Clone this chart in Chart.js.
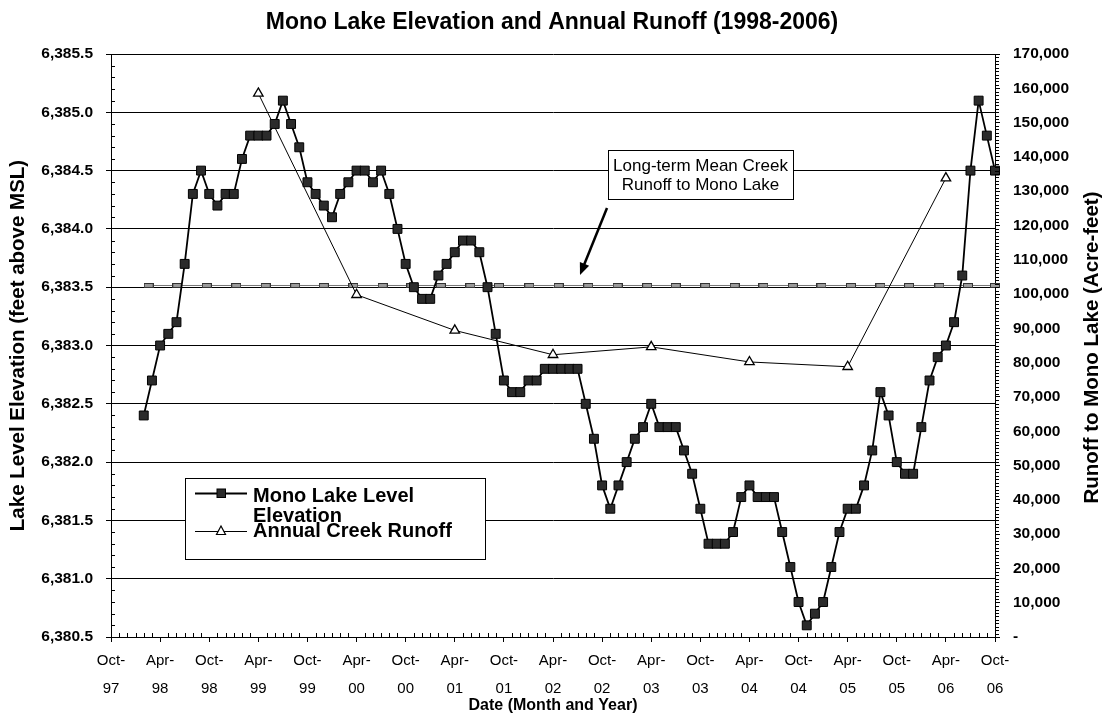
<!DOCTYPE html>
<html><head><meta charset="utf-8">
<script src="https://cdn.jsdelivr.net/npm/chart.js@4.4.0/dist/chart.umd.min.js"></script>
<style>html,body{margin:0;padding:0;background:#fff;} #wrap{width:1104px;height:719px;position:relative;}</style>
</head><body><div id="wrap"><canvas id="c" width="1104" height="719"></canvas></div>
<script>
// ---------- DATA ----------
const chartTitle = 'Mono Lake Elevation and Annual Runoff (1998-2006)';
const xAxisTitle = 'Date (Month and Year)';
const yAxisTitle = 'Lake Level Elevation (feet above MSL)';
const y2AxisTitle = 'Runoff to Mono Lake (Acre-feet)';
const annotationLines = ['Long-term Mean Creek', 'Runoff to Mono Lake'];
// x axis = months after Oct-97
const xTickLabels = ['Oct-97','Apr-98','Oct-98','Apr-99','Oct-99','Apr-00','Oct-00','Apr-01','Oct-01','Apr-02','Oct-02','Apr-03','Oct-03','Apr-04','Oct-04','Apr-05','Oct-05','Apr-06','Oct-06'];
const lakeFirstMonth = 4; // Feb-98, then one reading per month to Oct-06
const lakeLevel = [
  6382.4, 6382.7, 6383.0, 6383.1, 6383.2, 6383.7, 6384.3, 6384.5,
  6384.3, 6384.2, 6384.3, 6384.3, 6384.6, 6384.8, 6384.8, 6384.8,
  6384.9, 6385.1, 6384.9, 6384.7, 6384.4, 6384.3, 6384.2, 6384.1,
  6384.3, 6384.4, 6384.5, 6384.5, 6384.4, 6384.5, 6384.3, 6384.0,
  6383.7, 6383.5, 6383.4, 6383.4, 6383.6, 6383.7, 6383.8, 6383.9,
  6383.9, 6383.8, 6383.5, 6383.1, 6382.7, 6382.6, 6382.6, 6382.7,
  6382.7, 6382.8, 6382.8, 6382.8, 6382.8, 6382.8, 6382.5, 6382.2,
  6381.8, 6381.6, 6381.8, 6382.0, 6382.2, 6382.3, 6382.5, 6382.3,
  6382.3, 6382.3, 6382.1, 6381.9, 6381.6, 6381.3, 6381.3, 6381.3,
  6381.4, 6381.7, 6381.8, 6381.7, 6381.7, 6381.7, 6381.4, 6381.1,
  6380.8, 6380.6, 6380.7, 6380.8, 6381.1, 6381.4, 6381.6, 6381.6,
  6381.8, 6382.1, 6382.6, 6382.4, 6382.0, 6381.9, 6381.9, 6382.3,
  6382.7, 6382.9, 6383.0, 6383.2, 6383.6, 6384.5, 6385.1, 6384.8,
  6384.5
];
const runoffMonths = [18, 30, 42, 54, 66, 78, 90, 102]; // Apr-99 ... Apr-06
const runoffValues = [158500, 99800, 89400, 82300, 84600, 80200, 78800, 133800];
const meanRunoff = 102500;
const meanMarkerMonths = [4.6, 8.1, 11.7, 15.3, 18.9, 22.5, 26.0, 29.6, 33.2, 36.7, 40.3, 43.9, 47.4, 51.1, 54.7, 58.3, 61.9, 65.5, 69.0, 72.6, 76.2, 79.7, 83.3, 86.8, 90.4, 94.0, 97.5, 101.2, 104.7, 108.0];

// ---------- BUILD ----------
const FONT = '"Liberation Sans", Arial, Helvetica, sans-serif';
Chart.defaults.font.family = FONT;
Chart.defaults.color = '#000';

const lakePoints = lakeLevel.map((v, i) => ({x: lakeFirstMonth + i, y: v}));
const runoffPoints = runoffMonths.map((m, i) => ({x: m, y: runoffValues[i]}));
const meanPoints = meanMarkerMonths.map(m => ({x: m, y: meanRunoff}));

const meanMarker = document.createElement('canvas');
meanMarker.width = 10; meanMarker.height = 5;
(function(){ const c = meanMarker.getContext('2d'); c.fillStyle = '#9a9a9a'; c.fillRect(0,0,10,5); c.strokeStyle = '#333'; c.lineWidth = 1; c.strokeRect(0.5,0.5,9,4); })();

function wrapText(ctx, text, maxW) {
  const words = text.split(' '); const lines = []; let cur = '';
  words.forEach(w => { const t = cur ? cur + ' ' + w : w; if (ctx.measureText(t).width > maxW && cur) { lines.push(cur); cur = w; } else cur = t; });
  if (cur) lines.push(cur); return lines;
}

const decor = {
  id: 'decor',
  afterDraw(chart) {
    const ctx = chart.ctx, ca = chart.chartArea;
    const sx = chart.scales.x, sy = chart.scales.y, sy2 = chart.scales.y2;
    ctx.save();
    ctx.strokeStyle = '#000'; ctx.lineWidth = 1;
    ctx.beginPath();
    for (let i = 1; i < 50; i++) { if (i % 5 === 0) continue; const y = Math.round(sy.getPixelForValue(6380.5 + i * 0.1)) + 0.5; ctx.moveTo(ca.left, y); ctx.lineTo(ca.left + 4, y); }
    for (let i = 1; i < 170; i++) { if (i % 10 === 0) continue; const y = Math.round(sy2.getPixelForValue(i * 1000)) + 0.5; ctx.moveTo(ca.right, y); ctx.lineTo(ca.right + 4, y); }
    for (let m = 1; m < 108; m++) { if (m % 6 === 0) continue; const x = Math.round(sx.getPixelForValue(m)) + 0.5; ctx.moveTo(x, ca.bottom); ctx.lineTo(x, ca.bottom - 4); }
    ctx.stroke();

    ctx.fillStyle = '#000'; ctx.textAlign = 'center'; ctx.textBaseline = 'alphabetic';
    ctx.font = 'bold 23px ' + FONT;
    ctx.fillText(chartTitle, chart.width / 2, 29);

    ctx.save();
    ctx.translate(1092, (ca.top + ca.bottom) / 2 + 2);
    ctx.rotate(-Math.PI / 2);
    ctx.font = 'bold 20.5px ' + FONT; ctx.textBaseline = 'middle';
    ctx.fillText(y2AxisTitle, 0, 0);
    ctx.restore();

    const bx = ca.left + 497, by = ca.top + 96, bw = 185, bh = 49;
    ctx.fillStyle = '#fff'; ctx.fillRect(bx, by, bw, bh);
    ctx.strokeStyle = '#000'; ctx.lineWidth = 1; ctx.strokeRect(bx + 0.5, by + 0.5, bw, bh);
    ctx.fillStyle = '#000'; ctx.font = '17px ' + FONT; ctx.textAlign = 'center';
    ctx.fillText(annotationLines[0], bx + bw / 2, by + 21);
    ctx.fillText(annotationLines[1], bx + bw / 2, by + 40);
    const ax0 = bx - 1, ay0 = by + 58, ax1 = ca.left + 469, ay1 = ca.top + 221;
    ctx.lineWidth = 2.5; ctx.beginPath(); ctx.moveTo(ax0, ay0);
    const ang = Math.atan2(ay1 - ay0, ax1 - ax0);
    ctx.lineTo(ax1 - 8 * Math.cos(ang), ay1 - 8 * Math.sin(ang)); ctx.stroke();
    ctx.beginPath(); ctx.moveTo(ax1, ay1);
    ctx.lineTo(ax1 - 12 * Math.cos(ang) + 5 * Math.sin(ang), ay1 - 12 * Math.sin(ang) - 5 * Math.cos(ang));
    ctx.lineTo(ax1 - 12 * Math.cos(ang) - 5 * Math.sin(ang), ay1 - 12 * Math.sin(ang) + 5 * Math.cos(ang));
    ctx.closePath(); ctx.fill();

    const L = ca.left + 74, T = ca.top + 424, W = 300, H = 81;
    ctx.fillStyle = '#fff'; ctx.fillRect(L, T, W, H);
    ctx.strokeStyle = '#000'; ctx.lineWidth = 1; ctx.strokeRect(L + 0.5, T + 0.5, W, H);
    const ds = chart.data.datasets;
    ctx.font = 'bold 20px ' + FONT; ctx.textAlign = 'left'; ctx.fillStyle = '#000';
    ctx.lineWidth = 1.8; ctx.beginPath(); ctx.moveTo(L + 10, T + 15.5); ctx.lineTo(L + 62, T + 15.5); ctx.stroke();
    ctx.fillStyle = '#2b2b2b'; ctx.fillRect(L + 32, T + 11, 8.5, 8.5); ctx.lineWidth = 1; ctx.strokeRect(L + 32, T + 11, 8.5, 8.5);
    ctx.fillStyle = '#000';
    const l1 = wrapText(ctx, ds[0].label, 215);
    l1.forEach((t, i) => ctx.fillText(t, L + 68, T + 24 + i * 20));
    ctx.lineWidth = 1; ctx.beginPath(); ctx.moveTo(L + 10, T + 53.5); ctx.lineTo(L + 62, T + 53.5); ctx.stroke();
    ctx.fillStyle = '#fff'; ctx.beginPath();
    ctx.moveTo(L + 36, T + 48); ctx.lineTo(L + 40.5, T + 56.5); ctx.lineTo(L + 31.5, T + 56.5); ctx.closePath(); ctx.fill(); ctx.lineWidth = 1.2; ctx.stroke();
    ctx.fillStyle = '#000';
    ctx.fillText(ds[1].label, L + 68, T + 59);
    ctx.restore();
  }
};

new Chart(document.getElementById('c'), {
  type: 'line',
  data: { datasets: [
    { label: 'Mono Lake Level Elevation', data: lakePoints, yAxisID: 'y', borderColor: '#000', borderWidth: 1.8,
      pointStyle: 'rect', pointRadius: 6.3, pointBackgroundColor: '#2b2b2b', pointBorderColor: '#000', pointBorderWidth: 1, tension: 0, clip: false },
    { label: 'Annual Creek Runoff', data: runoffPoints, yAxisID: 'y2', borderColor: '#000', borderWidth: 1,
      pointStyle: 'triangle', pointRadius: 5.5, pointBackgroundColor: '#fff', pointBorderColor: '#000', pointBorderWidth: 1.3, tension: 0, clip: false },
    { label: 'Long-term Mean Creek Runoff to Mono Lake', data: meanPoints, yAxisID: 'y2', borderColor: '#777', borderWidth: 1,
      pointStyle: meanMarker, pointRadius: 5, tension: 0, clip: false }
  ]},
  options: {
    responsive: false, animation: false,
    layout: { padding: { top: 54, left: 0, right: 0, bottom: 0 } },
    plugins: { legend: { display: false }, tooltip: { enabled: false }, title: { display: false } },
    scales: {
      x: {
        type: 'linear', min: 0, max: 108, position: 'bottom',
        afterFit(s) { s.height = 82; },
        ticks: { stepSize: 6, autoSkip: false, maxRotation: 0, minRotation: 0, padding: 5, font: { size: 15, lineHeight: 1.85 },
          callback(v) { const i = v / 6; if (!Number.isInteger(i) || !xTickLabels[i]) return ''; const p = xTickLabels[i].split('-'); return [p[0] + '-', p[1]]; } },
        grid: { drawOnChartArea: false, drawTicks: true, tickLength: 5, color: '#000' },
        border: { display: true, color: '#000', width: 1 },
        title: { display: true, text: xAxisTitle, font: { size: 16, weight: 'bold' }, padding: { top: 0, bottom: 4 } }
      },
      y: {
        position: 'left', min: 6380.5, max: 6385.5,
        afterFit(s) { s.width = 111; },
        ticks: { stepSize: 0.5, padding: 13, font: { size: 15.5, weight: 'bold' },
          callback(v) { return Number(v).toLocaleString('en-US', { minimumFractionDigits: 1, maximumFractionDigits: 1 }); } },
        grid: { color: '#000', lineWidth: 1, tickLength: 5 },
        border: { display: true, color: '#000', width: 1 },
        title: { display: true, text: yAxisTitle, font: { size: 20.5, weight: 'bold' }, padding: { top: 6, bottom: 0 } }
      },
      y2: {
        position: 'right', min: 0, max: 170000,
        afterFit(s) { s.width = 109; },
        ticks: { stepSize: 10000, padding: 13, font: { size: 15.5, weight: 'bold' },
          callback(v) { return v === 0 ? '-' : Number(v).toLocaleString('en-US'); } },
        grid: { drawOnChartArea: false, tickLength: 5, color: '#000' },
        border: { display: true, color: '#000', width: 1 }
      }
    }
  },
  plugins: [decor]
});
</script>
</body></html>
